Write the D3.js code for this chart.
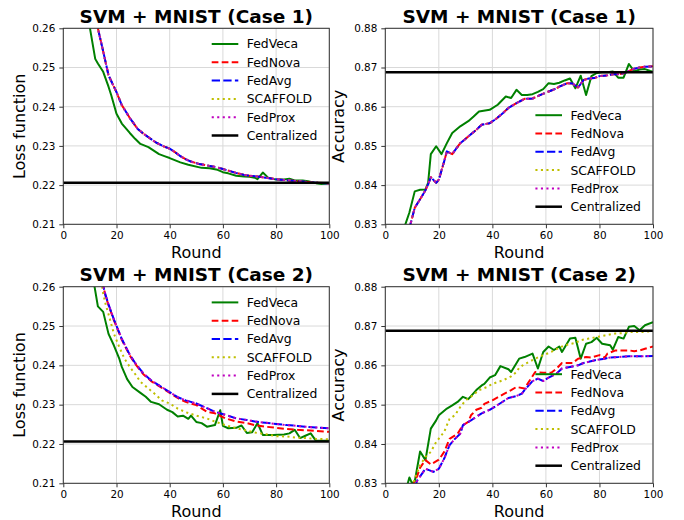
<!DOCTYPE html>
<html>
<head>
<meta charset="utf-8">
<script src="https://cdn.jsdelivr.net/npm/d3@7"></script>
<style>
  body { margin: 0; background: #fff; }
  svg { display: block; font-family: 'DejaVu Sans', sans-serif; }
</style>
</head>
<body>
<div id="app"></div>
<script>
// ---- data: [round, value] pairs ----
const seriesNames = ['FedVeca', 'FedNova', 'FedAvg', 'SCAFFOLD', 'FedProx'];
const xTicks = [0, 20, 40, 60, 80, 100];
const lossTicks = [0.21, 0.22, 0.23, 0.24, 0.25, 0.26];
const accTicks = [0.83, 0.84, 0.85, 0.86, 0.87, 0.88];
const centralizedLoss = 0.2206;
const centralizedAcc = 0.8688;

// Case 1, loss
const fedVecaLoss1 = [[9,0.2650],[10,0.2601],[12,0.2522],[13,0.2510],[15,0.2489],[17,0.2451],[18,0.2430],[20,0.2382],[22,0.2357],[25,0.2333],[27,0.2318],[29,0.2305],[32,0.2297],[36,0.2279],[38,0.2274],[40,0.2269],[44,0.2258],[47,0.2252],[52,0.2244],[55,0.2243],[58,0.2239],[60,0.2233],[62,0.2230],[65,0.2224],[68,0.2222],[70,0.2221],[72,0.2219],[73,0.2215],[75,0.2232],[77,0.2219],[80,0.2214],[83,0.2214],[85,0.2216],[87,0.2212],[90,0.2212],[92,0.2210],[95,0.2205],[97,0.2203],[100,0.2204]];
const fedNovaLoss1 = [[12,0.2650],[13,0.2600],[15,0.2541],[17,0.2480],[20,0.2437],[22,0.2404],[25,0.2371],[28,0.2343],[30,0.2332],[32,0.2322],[35,0.2308],[38,0.2298],[40,0.2293],[42,0.2284],[44,0.2274],[46,0.2266],[48,0.2260],[51,0.2254],[55,0.2249],[58,0.2245],[60,0.2241],[63,0.2235],[65,0.2231],[68,0.2226],[70,0.2224],[73,0.2222],[75,0.2220],[78,0.2217],[80,0.2215],[83,0.2213],[85,0.2212],[88,0.2210],[90,0.2209],[93,0.2207],[95,0.2206],[98,0.2205],[100,0.2204]];
const fedAvgLoss1 = fedNovaLoss1;
const scaffoldLoss1 = fedNovaLoss1;
const fedProxLoss1 = fedNovaLoss1;

// Case 1, accuracy
const fedVecaAcc1 = [[7,0.8290],[9,0.8330],[11,0.8384],[13,0.8388],[15,0.8389],[16,0.8406],[17,0.8479],[19,0.8499],[21,0.8479],[23,0.8507],[25,0.8533],[28,0.8550],[31,0.8563],[33,0.8575],[35,0.8588],[39,0.8592],[42,0.8605],[45,0.8626],[47,0.8622],[49,0.8643],[51,0.8630],[53,0.8630],[55,0.8632],[57,0.8638],[59,0.8645],[61,0.8660],[63,0.8658],[65,0.8661],[67,0.8667],[69,0.8672],[71,0.8647],[73,0.8679],[75,0.8630],[77,0.8678],[79,0.8686],[81,0.8688],[83,0.8688],[85,0.8690],[87,0.8674],[89,0.8674],[91,0.8709],[93,0.8690],[95,0.8695],[97,0.8696],[99,0.8691],[100,0.8689]];
const fedNovaAcc1 = [[9,0.8290],[11,0.8342],[13,0.8364],[15,0.8387],[16,0.8402],[17,0.8420],[19,0.8406],[20,0.8414],[22,0.8461],[23,0.8486],[25,0.8479],[28,0.8507],[31,0.8524],[34,0.8541],[36,0.8554],[39,0.8558],[41,0.8567],[44,0.8584],[46,0.8597],[49,0.8609],[52,0.8620],[55,0.8621],[58,0.8630],[60,0.8636],[63,0.8644],[65,0.8651],[68,0.8660],[70,0.8659],[72,0.8649],[74,0.8668],[76,0.8672],[78,0.8673],[80,0.8678],[83,0.8680],[85,0.8683],[87,0.8683],[89,0.8685],[91,0.8691],[93,0.8697],[95,0.8700],[97,0.8702],[100,0.8703]];
const fedAvgAcc1 = fedNovaAcc1;
const scaffoldAcc1 = fedNovaAcc1;
const fedProxAcc1 = fedNovaAcc1;

// Case 2, loss
const fedVecaLoss2 = [[11,0.2630],[13,0.2550],[15,0.2536],[17,0.2480],[19,0.2451],[21,0.2418],[22,0.2396],[24,0.2365],[26,0.2345],[29,0.2330],[31,0.2320],[33,0.2307],[36,0.2301],[39,0.2287],[41,0.2281],[43,0.2270],[45,0.2272],[47,0.2264],[48,0.2272],[50,0.2256],[52,0.2253],[54,0.2244],[57,0.2248],[59,0.2286],[60,0.2246],[62,0.2240],[65,0.2241],[67,0.2247],[69,0.2228],[71,0.2230],[73,0.2253],[75,0.2223],[79,0.2223],[83,0.2224],[85,0.2227],[87,0.2236],[89,0.2215],[91,0.2221],[93,0.2227],[95,0.2208],[100,0.2208]];
const fedNovaLoss2 = [[14,0.2640],[15,0.2600],[16,0.2574],[17,0.2553],[19,0.2515],[21,0.2482],[22,0.2465],[25,0.2425],[27,0.2404],[30,0.2378],[33,0.2360],[36,0.2347],[40,0.2330],[43,0.2317],[46,0.2307],[50,0.2299],[54,0.2282],[57,0.2278],[61,0.2265],[65,0.2257],[69,0.2253],[72,0.2248],[76,0.2244],[80,0.2241],[84,0.2238],[88,0.2236],[91,0.2235],[95,0.2233],[100,0.2231]];
const fedAvgLoss2 = [[14,0.2642],[15,0.2602],[16,0.2576],[17,0.2555],[19,0.2517],[21,0.2484],[22,0.2467],[25,0.2427],[27,0.2406],[30,0.2380],[33,0.2362],[36,0.2349],[40,0.2332],[43,0.2319],[46,0.2311],[50,0.2303],[54,0.2291],[57,0.2282],[61,0.2274],[65,0.2265],[69,0.2261],[72,0.2257],[76,0.2254],[80,0.2251],[84,0.2248],[88,0.2246],[91,0.2244],[95,0.2242],[100,0.2240]];
const scaffoldLoss2 = [[14,0.2628],[15,0.2582],[16,0.2553],[17,0.2530],[18,0.2506],[19,0.2481],[21,0.2447],[23,0.2417],[25,0.2396],[27,0.2378],[29,0.2358],[32,0.2341],[35,0.2324],[37,0.2311],[40,0.2303],[43,0.2290],[46,0.2281],[50,0.2272],[54,0.2265],[57,0.2257],[61,0.2248],[65,0.2240],[69,0.2234],[72,0.2229],[76,0.2225],[80,0.2220],[84,0.2219],[88,0.2216],[91,0.2215],[95,0.2213],[100,0.2212]];
const fedProxLoss2 = fedAvgLoss2;

// Case 2, accuracy
const fedVecaAcc2 = [[8,0.8290],[9,0.8315],[10,0.8300],[11,0.8305],[13,0.8381],[15,0.8359],[17,0.8439],[19,0.8460],[20,0.8473],[23,0.8490],[25,0.8498],[27,0.8507],[29,0.8520],[31,0.8514],[34,0.8537],[36,0.8549],[37,0.8553],[39,0.8569],[41,0.8575],[43,0.8598],[46,0.8590],[47,0.8583],[50,0.8617],[52,0.8621],[55,0.8630],[57,0.8592],[59,0.8634],[61,0.8648],[63,0.8639],[65,0.8648],[66,0.8634],[69,0.8668],[71,0.8670],[73,0.8617],[75,0.8655],[77,0.8659],[79,0.8670],[81,0.8655],[84,0.8651],[85,0.8640],[87,0.8672],[89,0.8668],[91,0.8698],[93,0.8700],[95,0.8689],[97,0.8702],[100,0.8710]];
const fedNovaAcc2 = [[10,0.8290],[12,0.8320],[13,0.8340],[15,0.8359],[17,0.8348],[20,0.8360],[22,0.8380],[24,0.8413],[27,0.8426],[29,0.8448],[31,0.8456],[32,0.8473],[34,0.8487],[36,0.8492],[37,0.8502],[40,0.8511],[44,0.8526],[47,0.8537],[49,0.8545],[52,0.8541],[54,0.8562],[56,0.8583],[59,0.8581],[62,0.8581],[64,0.8592],[66,0.8606],[70,0.8606],[72,0.8617],[75,0.8621],[77,0.8620],[80,0.8626],[82,0.8620],[83,0.8630],[86,0.8638],[91,0.8638],[93,0.8636],[95,0.8638],[97,0.8642],[100,0.8648]];
const fedAvgAcc2 = [[11,0.8290],[12,0.8308],[15,0.8337],[18,0.8329],[20,0.8337],[22,0.8363],[24,0.8397],[26,0.8413],[28,0.8426],[29,0.8448],[32,0.8460],[34,0.8469],[36,0.8478],[39,0.8487],[41,0.8495],[44,0.8508],[46,0.8517],[49,0.8522],[51,0.8528],[52,0.8537],[55,0.8560],[57,0.8566],[59,0.8560],[61,0.8569],[64,0.8579],[66,0.8592],[69,0.8596],[72,0.8600],[74,0.8606],[76,0.8609],[79,0.8614],[82,0.8617],[84,0.8620],[87,0.8621],[91,0.8623],[95,0.8623],[100,0.8624]];
const scaffoldAcc2 = [[10,0.8290],[11,0.8312],[13,0.8346],[15,0.8367],[17,0.8380],[19,0.8405],[22,0.8431],[24,0.8464],[26,0.8473],[28,0.8494],[30,0.8511],[32,0.8520],[35,0.8537],[38,0.8545],[40,0.8553],[44,0.8562],[47,0.8572],[49,0.8583],[50,0.8594],[52,0.8603],[56,0.8617],[59,0.8626],[62,0.8634],[65,0.8645],[67,0.8651],[71,0.8657],[73,0.8664],[76,0.8668],[79,0.8672],[82,0.8676],[86,0.8681],[89,0.8682],[92,0.8685],[96,0.8685],[100,0.8687]];
const fedProxAcc2 = fedAvgAcc2;

// ---- styles (matplotlib g-, r--, b--, y:, m:, k-) ----
const lineStyles = {
  FedVeca: { color: '#008000', dash: null, lw: 2 },
  FedNova: { color: '#ff0000', dash: '6.7,3.3', lw: 2 },
  FedAvg: { color: '#0000ff', dash: '8.3,3.3', lw: 2 },
  SCAFFOLD: { color: '#bfbf00', dash: '2.1,3.4', lw: 2 },
  FedProx: { color: '#bf00bf', dash: '2.1,3.4', lw: 2 },
  Centralized: { color: '#000000', dash: null, lw: 2.5 },
};

const panels = [
  { id: 'p1', title: 'SVM + MNIST (Case 1)', ylabel: 'Loss function', left: 63.3, top: 28.3, width: 266, height: 196,
    ticks: lossTicks, legend: 'upper', central: centralizedLoss, labelShift: 38,
    data: [fedVecaLoss1, fedNovaLoss1, fedAvgLoss1, scaffoldLoss1, fedProxLoss1] },
  { id: 'p2', title: 'SVM + MNIST (Case 1)', ylabel: 'Accuracy', left: 385.3, top: 28.3, width: 267.7, height: 196,
    ticks: accTicks, legend: 'lower', central: centralizedAcc, labelShift: 41.5,
    data: [fedVecaAcc1, fedNovaAcc1, fedAvgAcc1, scaffoldAcc1, fedProxAcc1] },
  { id: 'p3', title: 'SVM + MNIST (Case 2)', ylabel: 'Loss function', left: 63.3, top: 286.7, width: 266, height: 196.6,
    ticks: lossTicks, legend: 'upper', central: centralizedLoss, labelShift: 38,
    data: [fedVecaLoss2, fedNovaLoss2, fedAvgLoss2, scaffoldLoss2, fedProxLoss2] },
  { id: 'p4', title: 'SVM + MNIST (Case 2)', ylabel: 'Accuracy', left: 385.3, top: 286.7, width: 267.7, height: 196.6,
    ticks: accTicks, legend: 'lower', central: centralizedAcc, labelShift: 41.5,
    data: [fedVecaAcc2, fedNovaAcc2, fedAvgAcc2, scaffoldAcc2, fedProxAcc2] },
];

const svg = d3
  .select('#app')
  .append('svg')
  .attr('width', 684)
  .attr('height', 520);

svg.append('rect').attr('width', 684).attr('height', 520).attr('fill', '#fff');

const drawPanel = (p) => {
  const x = d3.scaleLinear().domain([0, 100]).range([0, p.width]);
  const y = d3
    .scaleLinear()
    .domain([p.ticks[0], p.ticks[p.ticks.length - 1]])
    .range([p.height, 0]);

  const g = svg.append('g').attr('transform', `translate(${p.left},${p.top})`);

  g.append('clipPath')
    .attr('id', 'clip-' + p.id)
    .append('rect')
    .attr('width', p.width)
    .attr('height', p.height);

  // grid
  g.append('g')
    .selectAll('line')
    .data(xTicks)
    .join('line')
    .attr('x1', (d) => x(d))
    .attr('x2', (d) => x(d))
    .attr('y1', 0)
    .attr('y2', p.height)
    .attr('stroke', '#d9d9d9');
  g.append('g')
    .selectAll('line')
    .data(p.ticks)
    .join('line')
    .attr('x1', 0)
    .attr('x2', p.width)
    .attr('y1', (d) => y(d))
    .attr('y2', (d) => y(d))
    .attr('stroke', '#d9d9d9');

  // curves
  const line = d3
    .line()
    .x((d) => x(d[0]))
    .y((d) => y(d[1]));
  const plot = g.append('g').attr('clip-path', `url(#clip-${p.id})`);
  seriesNames.forEach((name, i) => {
    const s = lineStyles[name];
    plot
      .append('path')
      .datum(p.data[i])
      .attr('d', line)
      .attr('fill', 'none')
      .attr('stroke', s.color)
      .attr('stroke-width', s.lw)
      .attr('stroke-dasharray', s.dash)
      .attr('stroke-linejoin', 'round');
  });
  plot
    .append('path')
    .datum([[0, p.central], [100, p.central]])
    .attr('d', line)
    .attr('stroke', '#000')
    .attr('stroke-width', lineStyles.Centralized.lw);

  // axes
  const xAxis = g
    .append('g')
    .attr('transform', `translate(0,${p.height})`)
    .call(d3.axisBottom(x).tickValues(xTicks).tickSize(4).tickPadding(3));
  const yAxis = g
    .append('g')
    .call(
      d3
        .axisLeft(y)
        .tickValues(p.ticks)
        .tickFormat(d3.format('.2f'))
        .tickSize(4)
        .tickPadding(4),
    );
  [xAxis, yAxis].forEach((a) => {
    a.select('.domain').remove();
    a.selectAll('text')
      .attr('font-family', 'DejaVu Sans')
      .attr('font-size', 10.4)
      .attr('fill', '#000');
    a.selectAll('line').attr('stroke', '#333');
  });

  // frame
  g.append('rect')
    .attr('width', p.width)
    .attr('height', p.height)
    .attr('fill', 'none')
    .attr('stroke', '#333')
    .attr('stroke-width', 1);

  // labels
  g.append('text')
    .attr('x', p.width / 2)
    .attr('y', -5.5)
    .attr('text-anchor', 'middle')
    .attr('font-size', 18.5)
    .attr('font-weight', 'bold')
    .text(p.title);
  g.append('text')
    .attr('x', p.width / 2)
    .attr('y', p.height + 33.5)
    .attr('text-anchor', 'middle')
    .attr('font-size', 16)
    .text('Round');
  g.append('text')
    .attr('transform', `translate(${-p.labelShift},${p.height / 2}) rotate(-90)`)
    .attr('text-anchor', 'middle')
    .attr('font-size', 16)
    .text(p.ylabel);

  // legend (no frame)
  const names = seriesNames.concat(['Centralized']);
  const rowGap = 18.3;
  const firstRow =
    p.legend === 'upper' ? 15.7 : p.height - 17.6 - rowGap * (names.length - 1);
  const lg = g.append('g').attr('transform', `translate(${p.width - 117.6},${firstRow})`);
  names.forEach((name, i) => {
    const s = lineStyles[name];
    lg.append('line')
      .attr('x1', 0)
      .attr('x2', 26.6)
      .attr('y1', i * rowGap)
      .attr('y2', i * rowGap)
      .attr('stroke', s.color)
      .attr('stroke-width', s.lw)
      .attr('stroke-dasharray', s.dash);
    lg.append('text')
      .attr('x', 35)
      .attr('y', i * rowGap)
      .attr('dy', '0.36em')
      .attr('font-size', 12.4)
      .text(name);
  });
};

panels.forEach(drawPanel);
</script>
</body>
</html>
